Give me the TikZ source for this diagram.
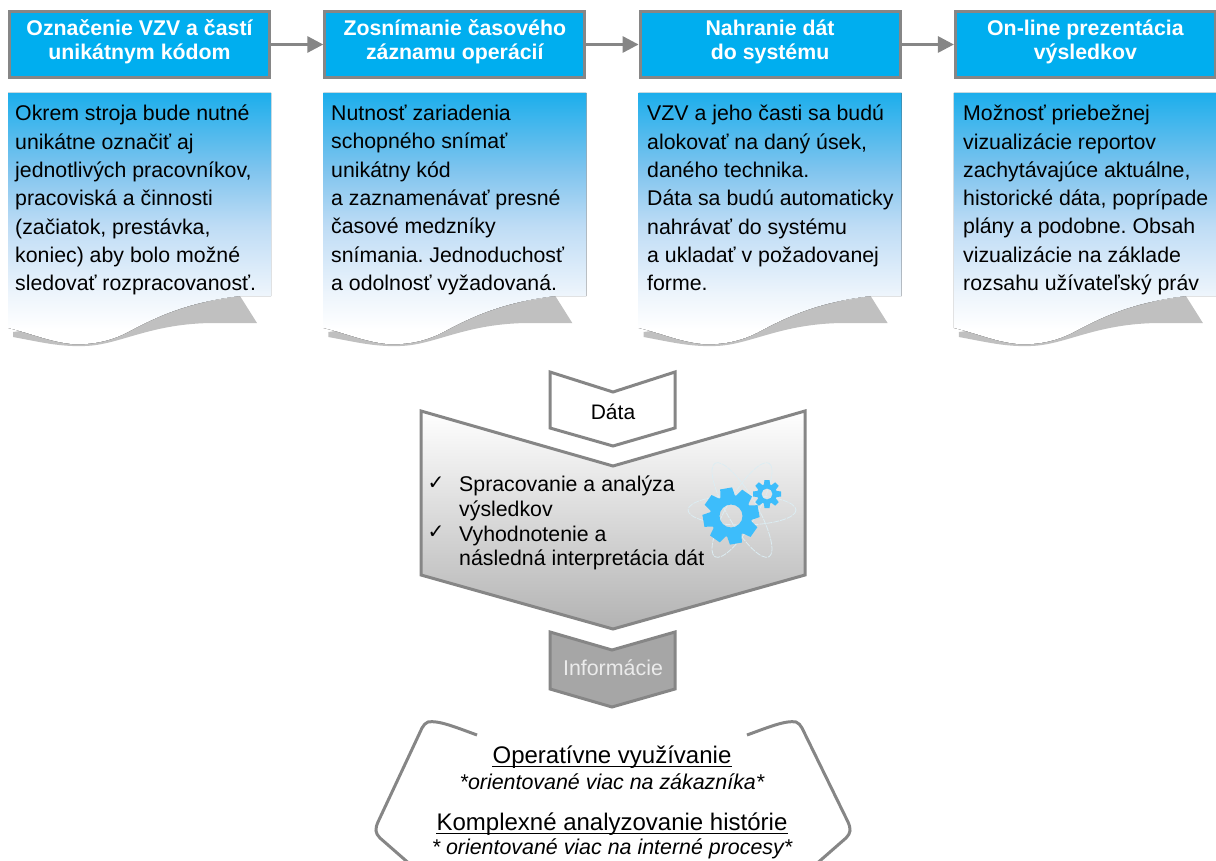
\documentclass[tikz,border=0pt]{standalone}
\usepackage{fontspec}
\setmainfont{Liberation Sans}
\newfontfamily\symfont{DejaVu Sans}
\usepackage{tikz}
\usetikzlibrary{chains,positioning,arrows.meta}

\definecolor{boxblue}{HTML}{00AEEF}
\definecolor{linegray}{HTML}{868686}
\definecolor{foldgray}{HTML}{C0C0C0}
\definecolor{infogray}{HTML}{A6A6A6}
\definecolor{gearblue}{HTML}{3DBDFB}
\definecolor{orbitblue}{HTML}{DCEDF3}
\definecolor{pagea}{HTML}{EEF5FC}
\definecolor{pageb}{HTML}{BEDCF5}
\definecolor{pagec}{HTML}{7FC4EE}
\definecolor{paged}{HTML}{1CAEEC}

\pgfdeclareverticalshading{pageshade}{100bp}{
color(0bp)=(white);
color(28.15bp)=(white);
color(34.9bp)=(pagea);
color(48.7bp)=(pageb);
color(59.8bp)=(pagec);
color(75bp)=(paged);
color(100bp)=(paged)}

\newcommand{\boxlines}[2]{\raisebox{0pt}[\height][\dimexpr\depth+4pt\relax]{\begin{tabular}{@{}c@{}}#1\\#2\end{tabular}}}

\begin{document}
\begin{tikzpicture}[x=1pt,y=-1pt]
		\tikzstyle{stepbox}=[draw=linegray,line width=3pt,fill=boxblue,text=white,
		minimum width=260pt,minimum height=66pt,inner sep=0pt,
		font=\fontsize{21.3}{24}\selectfont\bfseries]
		\tikzstyle{steparrow}=[draw=linegray,line width=3pt,-{Triangle[length=16pt,width=16pt]}]
		\tikzstyle{pagetext}=[anchor=north west,inner sep=0pt,align=left,
		font=\fontsize{21.3}{28.3}\selectfont\frenchspacing]
		\tikzstyle{chevron}=[draw=linegray,line width=3pt,line join=miter]
		\tikzstyle{usetitle}=[inner sep=0pt,font=\fontsize{24}{26}\selectfont]
		\tikzstyle{usenote}=[inner sep=0pt,font=\fontsize{21.4}{24}\selectfont\itshape]
		\tikzstyle{edgeline}=[draw=linegray,line width=3pt]
		\tikzstyle{titlerule}=[draw=black,line width=1.3pt]
		
		\useasboundingbox (0,0) rectangle (1216,861);
		\clip (0,0) rectangle (1216,861);
		
		%% Draw step boxes
		\begin{scope}[start chain=1 going right,node distance=52.3pt]
		
		\node [on chain=1,stepbox] (mark) at (139.5,44.5) {\boxlines{Označenie VZV a častí}{unikátnym kódom}};
		\node [on chain=1,stepbox] (scan) {\boxlines{Zosnímanie časového}{záznamu operácií}};
		\node [on chain=1,stepbox] (load) {\boxlines{Nahranie dát}{do systému}};
		\node [on chain=1,stepbox] (show) {\boxlines{On-line prezentácia}{výsledkov}};
		
		\end{scope}
		
		\draw [steparrow] (mark) -- (scan);
		\draw [steparrow] (scan) -- (load);
		\draw [steparrow] (load) -- (show);
		
		%% Draw pages under the boxes
		\foreach \px in {0,315.3,630.6,945.9}{
		\begin{scope}[xshift=\px pt]
		\fill [foldgray] (13,337) .. controls (40,342) and (60,347) .. (85,346)
		.. controls (120,345) and (150,323) .. (215,323) -- (257,323) -- (240,296)
		-- (100,320) -- (13,332) -- cycle;
		\fill [shading=pageshade] (8,93) -- (271,93) -- (271,296) -- (240,296)
		.. controls (190,302) and (160,315) .. (130,331)
		.. controls (110,342) and (90,345) .. (72,344)
		.. controls (50,342) and (30,333) .. (8,328) -- cycle;
		\end{scope}
		}
		
		\node [pagetext] (marktext) at (15,105) {Okrem stroja bude nutné\\unikátne označiť aj\\jednotlivých pracovníkov,\\pracoviská a činnosti\\(začiatok, prestávka,\\koniec) aby bolo možné\\sledovať rozpracovanosť.};
		\node [pagetext,right=316pt of marktext.north west,anchor=north west] (scantext) {Nutnosť zariadenia\\schopného snímať\\unikátny kód\\a zaznamenávať presné\\časové medzníky\\snímania. Jednoduchosť\\a odolnosť vyžadovaná.};
		\node [pagetext,right=316pt of scantext.north west,anchor=north west] (loadtext) {VZV a jeho časti sa budú\\alokovať na daný úsek,\\daného technika.\\Dáta sa budú automaticky\\nahrávať do systému\\a ukladať v požadovanej\\forme.};
		\node [pagetext,right=316pt of loadtext.north west,anchor=north west] (showtext) {Možnosť priebežnej\\vizualizácie reportov\\zachytávajúce aktuálne,\\historické dáta, poprípade\\plány a podobne. Obsah\\vizualizácie na základe\\rozsahu užívateľský práv};
		
		%% Draw chevrons in the middle
		\draw [chevron,fill=white] (550,372) -- (613,392) -- (675,372) -- (675,428) -- (613,446) -- (550,428) -- cycle;
		\node [font=\fontsize{21}{24}\selectfont] (data) at (613,412) {Dáta};
		
		\draw [chevron,top color=white,middle color=black!5,bottom color=black!30] (421,411) -- (613,466) -- (805,411) -- (805,575) -- (613,629) -- (421,575) -- cycle;
		
		\node [pagetext,font=\fontsize{21.3}{24.6}\selectfont] (steps) at (459,476) {Spracovanie a analýza\\výsledkov\\Vyhodnotenie a\\následná interpretácia dát};
		\node [font=\symfont\fontsize{20}{20}\selectfont,inner sep=0pt] (checka) at (436,483) {✓};
		\node [font=\symfont\fontsize{20}{20}\selectfont,inner sep=0pt] (checkb) at (436,532) {✓};
		
		%% Draw orbits and gears
		\foreach \rot in {0,60,120}
		\draw [orbitblue,line width=0.8pt,dash pattern=on 6pt off 1pt] (742,510) ellipse [x radius=54,y radius=15,rotate=\rot];
		
		\fill [gearblue,even odd rule] (731,516) circle (21) (731,516) circle (11.5);
		\foreach \rot in {0,45,...,315}
		\fill [gearblue,shift={(731,516)},rotate=\rot+10] (19,-7.5) -- (28,-6) -- (28,6) -- (19,7.5) -- cycle;
		
		\fill [gearblue,even odd rule] (767,494) circle (10) (767,494) circle (5.5);
		\foreach \rot in {0,45,...,315}
		\fill [gearblue,shift={(767,494)},rotate=\rot] (9,-3.2) -- (14,-2.5) -- (14,2.5) -- (9,3.2) -- cycle;
		
		\draw [chevron,fill=infogray] (550,632) -- (612,650) -- (675,632) -- (675,689) -- (612,707) -- (550,689) -- cycle;
		\node [font=\fontsize{21.4}{24}\selectfont,text=black!8] (info) at (613,668) {Informácie};
		
		%% Draw the bottom frame
		\draw [edgeline] (477,735) .. controls (455,727) and (438,720) .. (428,722)
		.. controls (425,723) and (424,725) .. (422,728) -- (378,822)
		.. controls (375,829) and (375,833) .. (380,838) -- (412,866);
		\draw [edgeline] (747,735) .. controls (769,727) and (786,720) .. (796,722)
		.. controls (799,723) and (800,725) .. (802,728) -- (848,822)
		.. controls (851,829) and (851,833) .. (846,838) -- (814,866);
		
		\node [usetitle] (oper) at (612,757) {Operatívne využívanie};
		\node [usenote,below=5pt of oper] (opernote) {*orientované viac na zákazníka*};
		\node [usetitle,below=23pt of opernote] (hist) {Komplexné analyzovanie histórie};
		\node [usenote,below=3pt of hist] (histnote) {* orientované viac na interné procesy*};
		\draw [titlerule] ([yshift=-3pt]oper.base west) -- ([yshift=-3pt]oper.base east);
		\draw [titlerule] ([yshift=-3pt]hist.base west) -- ([yshift=-3pt]hist.base east);
		
\end{tikzpicture}
\end{document}
